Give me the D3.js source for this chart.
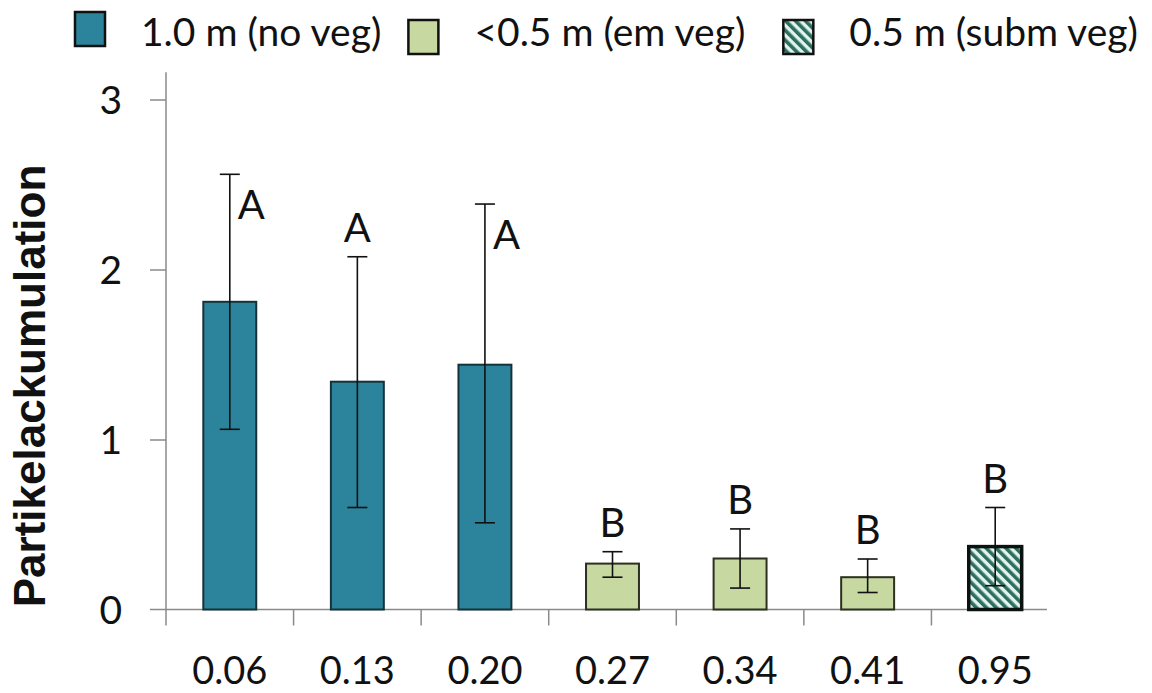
<html><head>
<meta charset="utf-8">
<title>Partikelackumulation</title>
<style>
  body {margin:0; background:#fff;}
  text {font-family: Lato, "Open Sans", sans-serif; fill:#111;}
</style>
</head>
<body>
<script src="https://d3js.org/d3.v7.min.js"></script>
<script>
// data
var categories = ["0.06", "0.13", "0.20", "0.27", "0.34", "0.41", "0.95"];
var means      = [1.81, 1.34, 1.44, 0.27, 0.30, 0.19, 0.37];
var errHigh    = [2.56, 2.075, 2.385, 0.34, 0.474, 0.297, 0.60];
var errLow     = [1.06, 0.60, 0.51, 0.19, 0.126, 0.10, 0.14];
var groups     = ["no", "no", "no", "em", "em", "em", "subm"];
var letters    = ["A", "A", "A", "B", "B", "B", "B"];
var letterSide = ["beside", "above", "beside", "above", "above", "above", "above"];
var legendKeys   = ["no", "em", "subm"];
var legendLabels = ["1.0 m (no veg)", "<0.5 m (em veg)", "0.5 m (subm veg)"];
var yTicks = [0, 1, 2, 3];
var yTitle = "Partikelackumulation";

var width = 1152, height = 693;
var svg = d3.select("body").append("svg")
    .attr("width", width).attr("height", height);

// hatch for the submerged vegetation bar
var defs = svg.append("defs");
var pat = defs.append("pattern")
    .attr("id", "hatch")
    .attr("patternUnits", "userSpaceOnUse")
    .attr("width", 7).attr("height", 7)
    .attr("patternTransform", "rotate(-45)");
pat.append("rect").attr("width", 7).attr("height", 7).attr("fill", "#e3f4ee");
pat.append("rect").attr("width", 3.6).attr("height", 7).attr("fill", "#2d6f5f");

var fills = {no: "#2c849c", em: "#c7d9a1", subm: "url(#hatch)"};
var strokes = {no: "#15323b", em: "#2b3020", subm: "#0c120f"};
var strokeW = {no: 2, em: 2, subm: 3.5};

var x = d3.scaleBand().domain(categories).range([166, 1059]);
var y = d3.scaleLinear().domain([0, 3]).range([609.5, 99.5]);
var barW = x.bandwidth() * 0.415;
var axisColor = "#8a8a8a";

// y axis
var gy = svg.append("g").attr("transform", "translate(166,0)")
    .call(d3.axisLeft(y).tickValues(yTicks).tickSize(16).tickFormat(d3.format("d")));
gy.select(".domain").remove();
gy.selectAll("line").attr("stroke", axisColor).attr("stroke-width", 1.5);
gy.selectAll("text").attr("x", -44).attr("dy", "0.36em")
    .style("font-size", "39px").style("font-family", "Lato");
gy.select(".tick:first-of-type line").remove();
svg.append("line")
    .attr("x1", 166).attr("x2", 166)
    .attr("y1", y(0)).attr("y2", y(3.16))
    .attr("stroke", axisColor).attr("stroke-width", 1.5);

// x axis
var gx = svg.append("g").attr("transform", "translate(0," + y(0) + ")")
    .call(d3.axisBottom(x).tickSize(0));
gx.select(".domain").remove();
gx.selectAll("text").attr("y", 74).attr("dy", 0)
    .style("font-size", "38px").style("font-family", "Lato");
svg.append("line")
    .attr("x1", 150).attr("x2", 1047)
    .attr("y1", y(0)).attr("y2", y(0))
    .attr("stroke", axisColor).attr("stroke-width", 1.5);
svg.append("g").selectAll("line")
    .data(categories)
    .enter().append("line")
    .attr("x1", function (d) { return x(d); })
    .attr("x2", function (d) { return x(d); })
    .attr("y1", y(0)).attr("y2", y(0) + 16)
    .attr("stroke", axisColor).attr("stroke-width", 1.5);

// bars
var rows = categories.map(function (c, i) {
    return {cat: c, mean: means[i], hi: errHigh[i], lo: errLow[i],
            group: groups[i], letter: letters[i], side: letterSide[i]};
});
var cx = function (d) { return x(d.cat) + x.bandwidth() / 2; };

svg.append("g").selectAll("rect")
    .data(rows)
    .enter().append("rect")
    .attr("x", function (d) { return cx(d) - barW / 2; })
    .attr("y", function (d) { return y(d.mean); })
    .attr("width", barW)
    .attr("height", function (d) { return y(0) - y(d.mean); })
    .attr("fill", function (d) { return fills[d.group]; })
    .attr("stroke", function (d) { return strokes[d.group]; })
    .attr("stroke-width", function (d) { return strokeW[d.group]; });

// error bars
var eb = svg.append("g").selectAll("g")
    .data(rows)
    .enter().append("g")
    .attr("stroke", "#111").attr("stroke-width", 1.6);
eb.append("line")
    .attr("x1", cx).attr("x2", cx)
    .attr("y1", function (d) { return y(d.lo); })
    .attr("y2", function (d) { return y(d.hi); });
eb.append("line")
    .attr("x1", function (d) { return cx(d) - 10; })
    .attr("x2", function (d) { return cx(d) + 10; })
    .attr("y1", function (d) { return y(d.hi); })
    .attr("y2", function (d) { return y(d.hi); });
eb.append("line")
    .attr("x1", function (d) { return cx(d) - 10; })
    .attr("x2", function (d) { return cx(d) + 10; })
    .attr("y1", function (d) { return y(d.lo); })
    .attr("y2", function (d) { return y(d.lo); });

// significance letters
svg.append("g").selectAll("text")
    .data(rows)
    .enter().append("text")
    .attr("x", function (d) { return d.side == "beside" ? cx(d) + 8 : cx(d); })
    .attr("y", function (d) { return d.side == "beside" ? y(d.hi) + 45 : y(d.hi) - 15; })
    .attr("text-anchor", function (d) { return d.side == "beside" ? "start" : "middle"; })
    .style("font-size", "40px")
    .text(function (d) { return d.letter; });

// legend
var lg = svg.append("g");
var lx = 75;
var itemGap = [27, 38];
legendKeys.forEach(function (k, i) {
    var sy = i == 0 ? 12 : 20;
    lg.append("rect")
        .attr("x", lx).attr("y", sy)
        .attr("width", 30).attr("height", 34)
        .attr("fill", fills[k])
        .attr("stroke", "#111").attr("stroke-width", 2.5);
    var t = lg.append("text")
        .attr("x", lx + 66).attr("y", 46)
        .style("font-size", "39px")
        .text(legendLabels[i]);
    lx = lx + 66 + t.node().getComputedTextLength() + (itemGap[i] || 0);
});

// y title
svg.append("text")
    .attr("transform", "translate(45,386) rotate(-90)")
    .attr("text-anchor", "middle")
    .style("font-family", "'Liberation Sans', Arial, sans-serif")
    .style("font-weight", "bold")
    .style("font-size", "44px")
    .text(yTitle);
</script>
</body></html>
